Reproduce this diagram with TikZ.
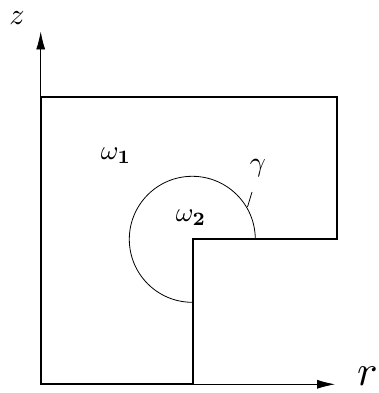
\documentclass[tikz,border=0pt]{standalone}
\usetikzlibrary{arrows.meta}
\begin{document}
\begin{tikzpicture}[x=1pt,y=-1pt,
  boxline/.style={line width=2pt,line join=miter},
  thinline/.style={line width=0.8pt},
  axis/.style={line width=0.8pt,-{Latex[length=18pt,width=9pt]}},
  lbl/.style={inner sep=0pt}]
\useasboundingbox (0,0) rectangle (379,393);
\fill[white] (0,0) rectangle (379,393);
\coordinate (O) at (40.7,384.3);
\coordinate (TL) at (40.7,96.7);
\coordinate (TR) at (336.7,96.7);
\coordinate (MR) at (336.7,239.3);
\coordinate (C) at (193.3,239.3);
\coordinate (BM) at (193.3,384.3);
\coordinate (ztip) at (40.7,31.5);
\coordinate (rtip) at (335,384.3);
\draw[axis] (O) -- (ztip);
\draw[axis] (BM) -- (rtip);
\draw[boxline] (O) -- (TL) -- (TR) -- (MR) -- (C) -- (BM) -- cycle;
\draw[thinline] (C) ++(62,0) arc[start angle=0,end angle=-270,radius=63];
\node[lbl,scale=3] (z) at (17,18) {$z$};
\node[lbl,anchor=base east,scale=4.3] (r) at (378.5,385) {$r$};
\node[lbl,scale=2.7] (w1) at (116,156) {$\omega_{\mathbf{1}}$};
\node[lbl,scale=2.7] (w2) at (191,218) {$\omega_{\mathbf{2}}$};
\node[lbl,scale=2.8] (g) at (258,168) {$\gamma$};
\coordinate (g1) at (252,192);
\coordinate (g2) at (247.5,207);
\draw[thinline] (g1) -- (g2);
\end{tikzpicture}
\end{document}
